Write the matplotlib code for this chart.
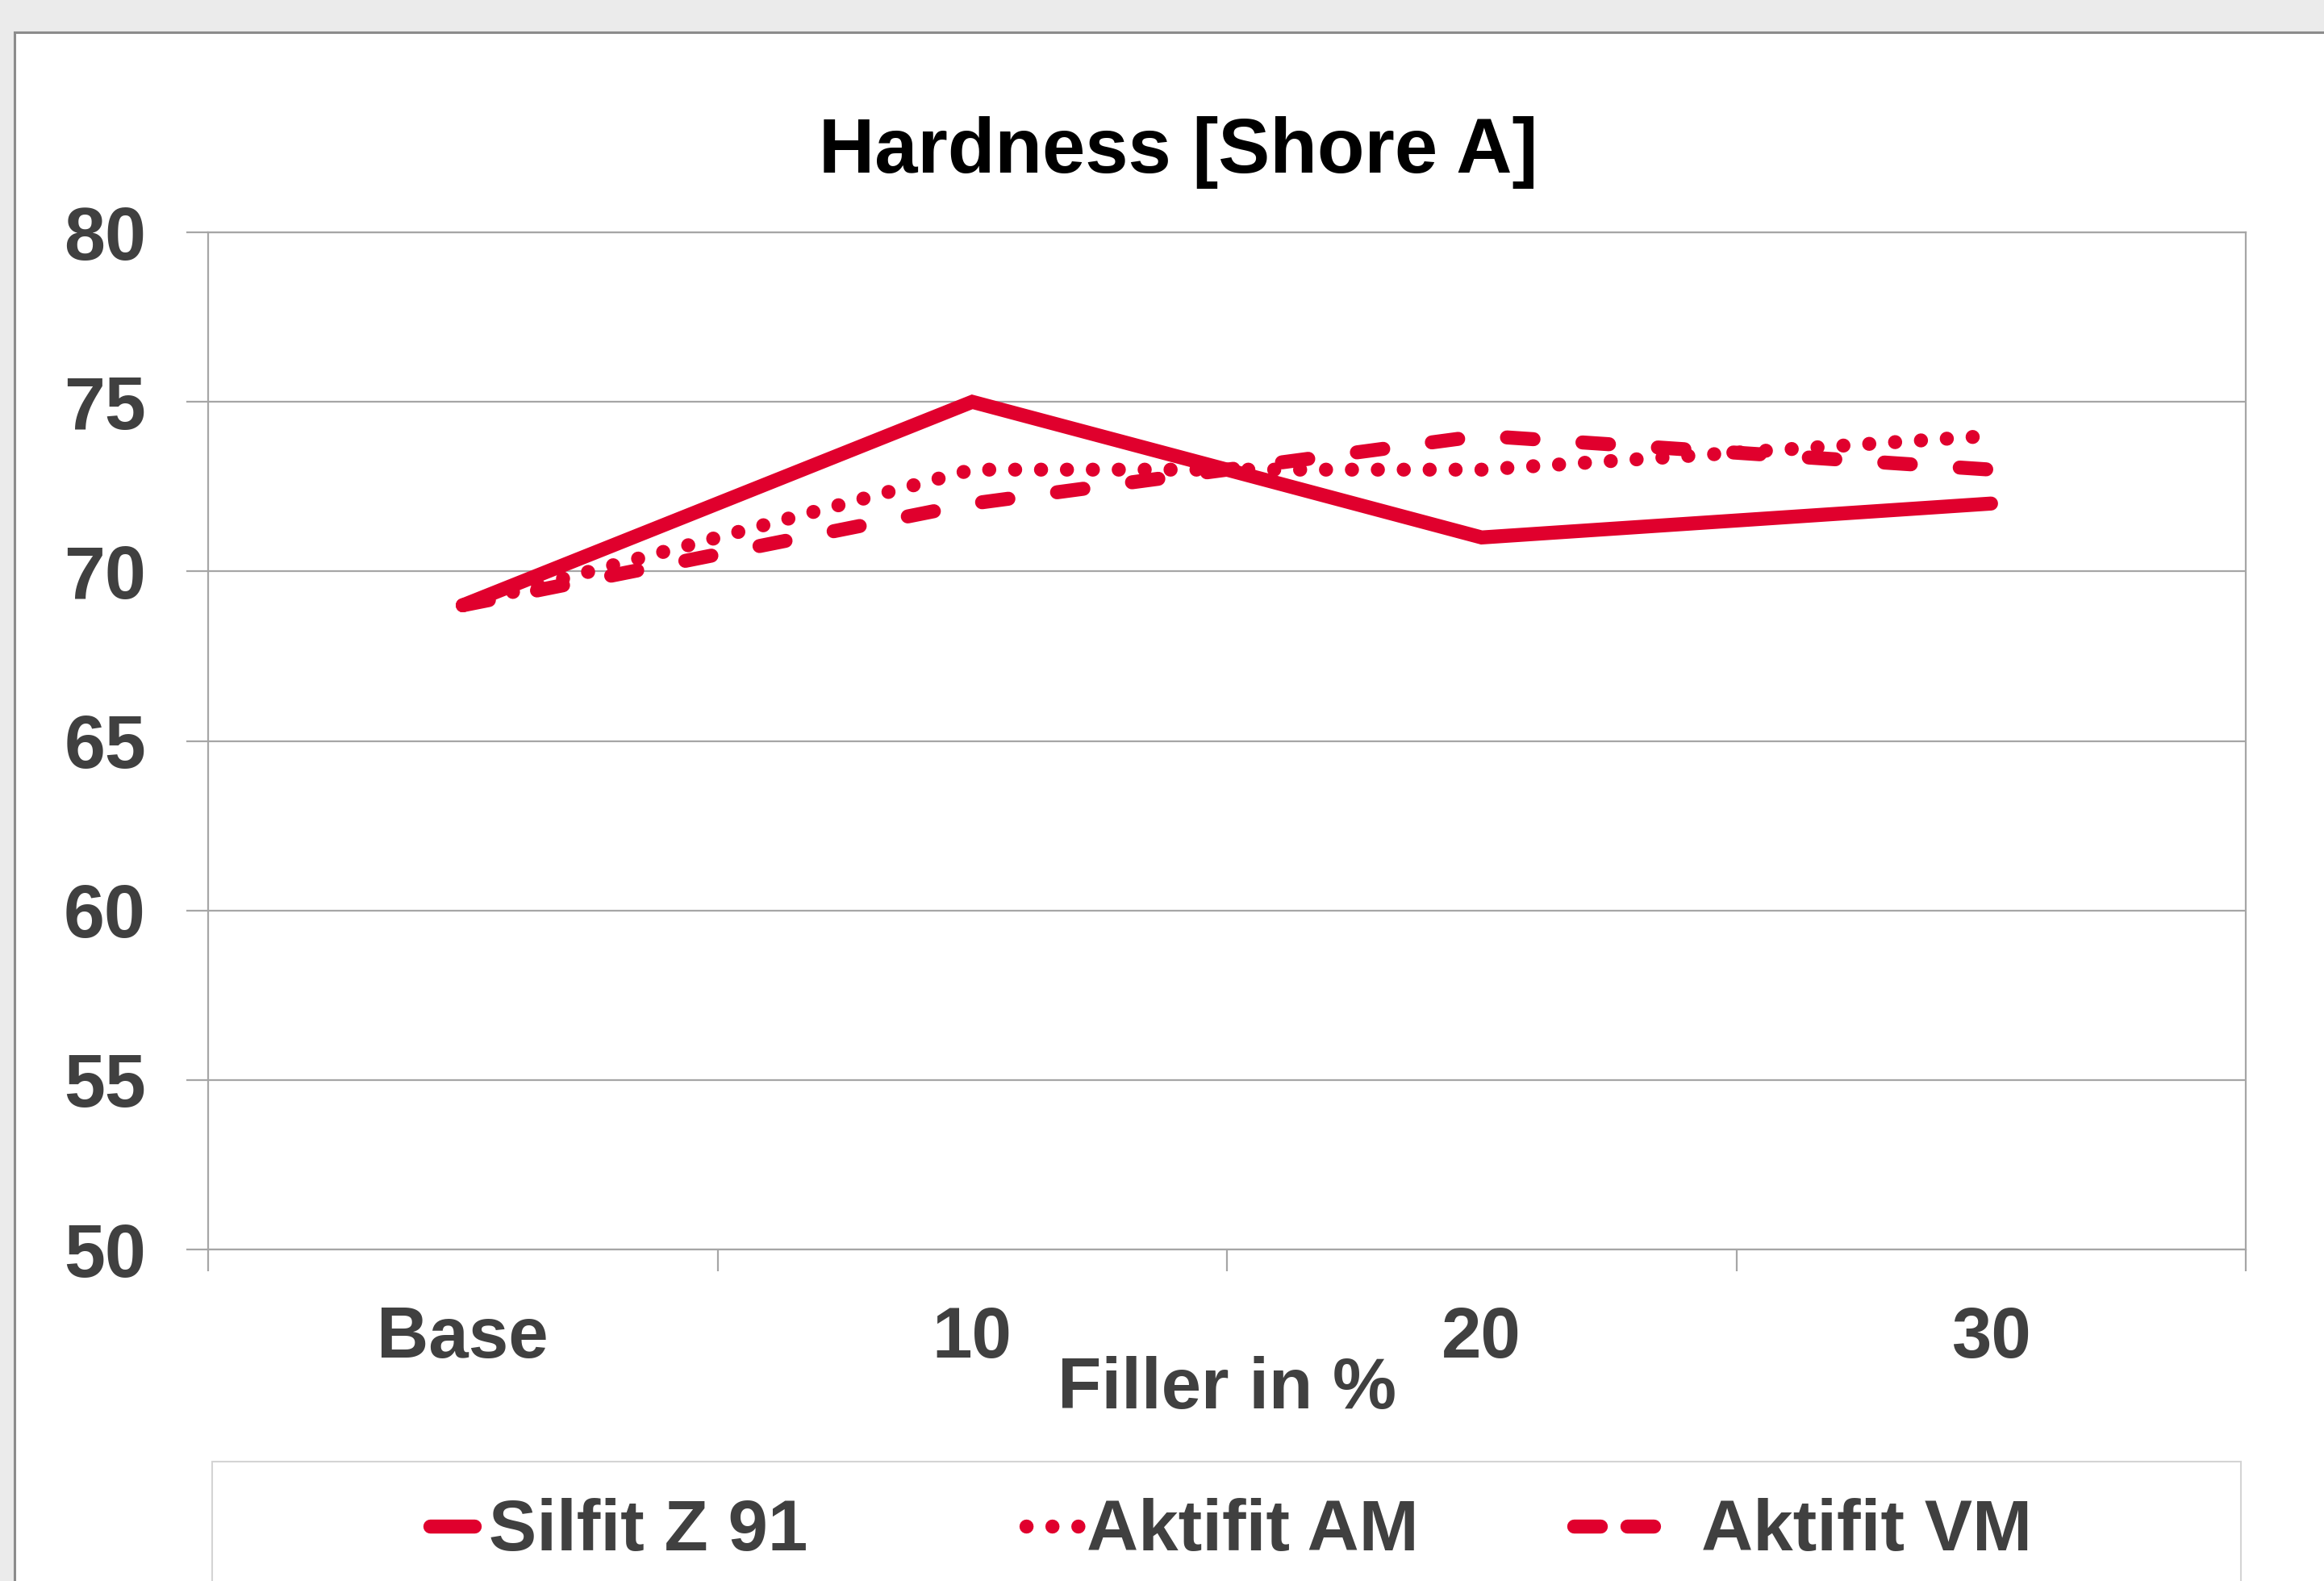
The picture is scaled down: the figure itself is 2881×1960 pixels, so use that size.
import numpy as np
import matplotlib
matplotlib.use("Agg")
import matplotlib.pyplot as plt
from matplotlib.patches import Rectangle
from matplotlib.lines import Line2D

# data
categories = ["Base", "10", "20", "30"]
silfit_z91 = [69, 75, 71, 72]
aktifit_am = [69, 73, 73, 74]
aktifit_vm = [69, 72, 74, 73]
series_names = ["Silfit Z 91", "Aktifit AM", "Aktifit VM"]
y_ticks = [50, 55, 60, 65, 70, 75, 80]

red = "#E0002D"
txt = "#404040"
grid_c = "#A6A6A6"

plt.rcParams['font.family'] = ['Liberation Sans', 'DejaVu Sans']
plt.rcParams['font.weight'] = 'bold'

W, H = 2881, 1960
fig = plt.figure(figsize=(W / 100, H / 100), dpi=100, facecolor="#EBEBEB")

def fx(px):
    return px / W

def fy(py):
    return 1 - py / H

# white chart panel with grey border
fig.patches.append(Rectangle((fx(18), -0.05), 1.2, fy(40) + 0.05,
                             transform=fig.transFigure, facecolor="white",
                             edgecolor="#8C8C8C", linewidth=2.2, zorder=-3))
# legend frame
fig.patches.append(Rectangle((fx(263), -0.05), fx(2778 - 263), fy(1812) + 0.05,
                             transform=fig.transFigure, facecolor="white",
                             edgecolor="#D4D4D4", linewidth=1.5, zorder=-2))

ax = fig.add_axes([fx(258), fy(1549), fx(2784 - 258), (1549 - 288) / H])
ax.set_facecolor("white")
ax.set_zorder(1)

lw = 12.5
styles = [dict(linestyle="-", solid_capstyle="round", solid_joinstyle="miter"),
          dict(linestyle=(0, (0.01, 1.84)), dash_capstyle="round"),
          dict(linestyle=(0, (1.9, 3.5)), dash_capstyle="round")]

x = np.arange(len(categories))
for vals, st in zip([silfit_z91, aktifit_am, aktifit_vm], styles):
    ax.plot(x, vals, color=red, lw=lw, zorder=3, **st)

ax.set_xlim(-0.5, len(categories) - 0.5)
ax.set_ylim(50, 80)
ax.set_yticks(y_ticks)
ax.set_yticklabels([str(v) for v in y_ticks])
ax.set_xticks(x)
ax.set_xticklabels(categories)
ax.set_xticks(np.arange(-0.5, len(categories), 1.0), minor=True)

ax.yaxis.grid(True, color=grid_c, lw=1.6)
for s in ax.spines.values():
    s.set_color(grid_c)
    s.set_linewidth(1.6)

ax.tick_params(axis="y", length=19.5, width=1.6, color=grid_c, pad=36,
               labelsize=66, labelcolor=txt)
ax.tick_params(axis="x", which="major", length=0, pad=50,
               labelsize=64, labelcolor=txt)
ax.tick_params(axis="x", which="minor", length=19.5, width=1.6, color=grid_c)

ax.set_xlabel("Filler in %", fontsize=64, color=txt, fontweight="bold", va="center")
ax.xaxis.set_label_coords(0.5, -0.138)

fig.text(fx(1461), fy(189), "Hardness [Shore A]", fontsize=69,
         fontweight="bold", color="black", ha="center", va="center")

# legend entries, laid out like the original (handle span, text start)
leg_handles = [(533, 588), (1272, 1337), (1951, 2053)]
leg_text_x = [606, 1347, 2109]
leg_line_y = 1892
leg_base_y = 1922
handle_styles = [styles[0], styles[1],
                 dict(linestyle=(0, (1.9, 1.9)), dash_capstyle="round")]
for (x0, x1), tx, name, st in zip(leg_handles, leg_text_x, series_names, handle_styles):
    fig.add_artist(Line2D([fx(x0), fx(x1)], [fy(leg_line_y)] * 2,
                          transform=fig.transFigure, color=red, lw=lw, **st))
    fig.text(fx(tx), fy(leg_base_y), name, fontsize=64, fontweight="bold",
             color=txt, ha="left", va="baseline")

fig.savefig("out.png", dpi=100, facecolor=fig.get_facecolor())
